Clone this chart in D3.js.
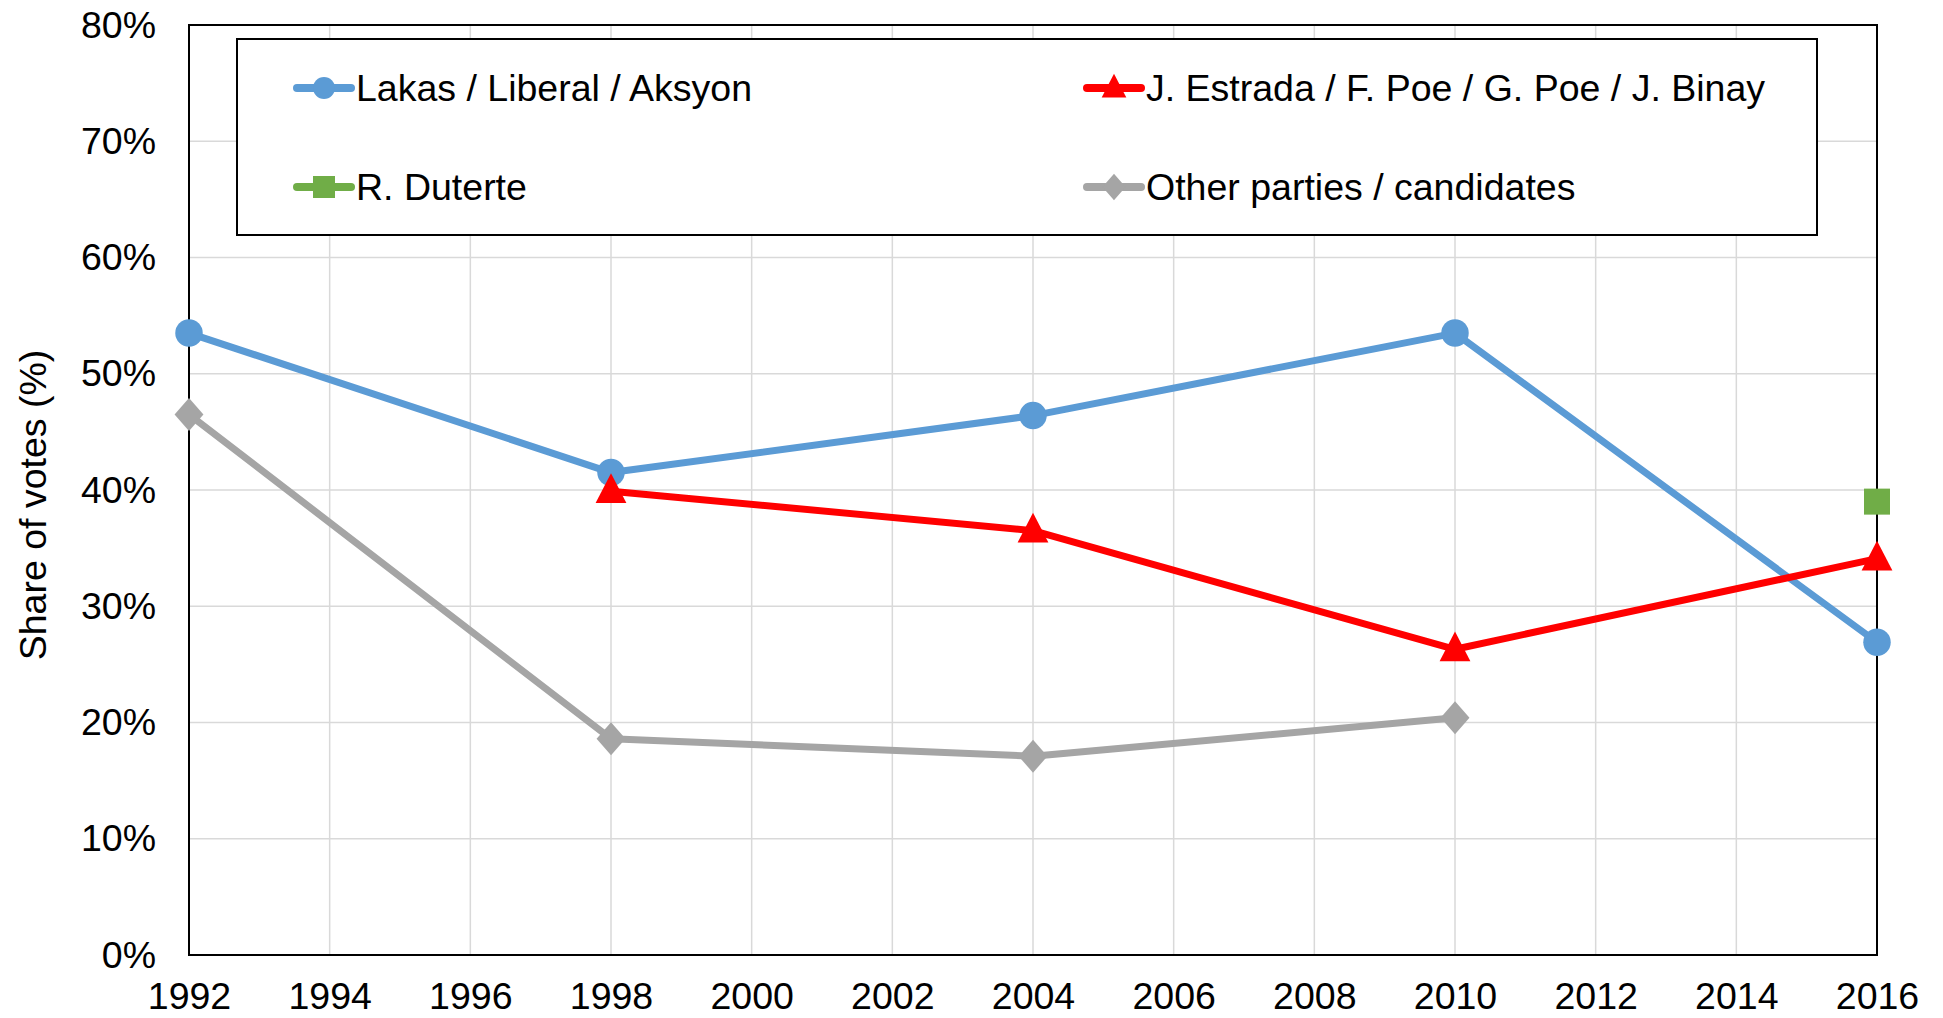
<!DOCTYPE html>
<html>
<head>
<meta charset="utf-8">
<script src="https://cdn.jsdelivr.net/npm/d3@7"></script>
<style>
  html, body { margin: 0; padding: 0; background: #fff; }
  svg { display: block; font-family: "Liberation Sans", Arial, sans-serif; }
</style>
</head>
<body>
<svg id="chart" width="1943" height="1018"></svg>
<script>
// ---- Data ----
const years = [1992, 1998, 2004, 2010, 2016];
const lakas = [53.5, 41.5, 46.4, 53.5, 26.9];
const estrada = [null, 39.9, 36.5, 26.3, 34.1];
const duterte = [null, null, null, null, 39.0];
const other = [46.5, 18.6, 17.1, 20.4, null];
const xTicks = [1992, 1994, 1996, 1998, 2000, 2002, 2004, 2006, 2008, 2010, 2012, 2014, 2016];
const yTicks = [0, 10, 20, 30, 40, 50, 60, 70, 80];
const seriesNames = ["Lakas / Liberal / Aksyon", "J. Estrada / F. Poe / G. Poe / J. Binay", "R. Duterte", "Other parties / candidates"];

(function () {
const series = [
  { name: seriesNames[0], values: lakas, color: "#5b9bd5", marker: "circle" },
  { name: seriesNames[1], values: estrada, color: "#ff0000", marker: "triangle" },
  { name: seriesNames[2], values: duterte, color: "#70ad47", marker: "square" },
  { name: seriesNames[3], values: other, color: "#a5a5a5", marker: "diamond" }
];

const FS = 37.5;
const svg = d3.select("#chart");
const pL = 189, pR = 1877, pT = 25, pB = 955;

const x = d3.scaleLinear().domain([1992, 2016]).range([pL, pR]);
const y = d3.scaleLinear().domain([0, 80]).range([pB, pT]);

// Gridlines
svg.append("g").selectAll("line").data(yTicks).join("line")
  .attr("x1", pL).attr("x2", pR)
  .attr("y1", d => y(d)).attr("y2", d => y(d))
  .attr("stroke", "#d9d9d9").attr("stroke-width", 1.5);
svg.append("g").selectAll("line").data(xTicks).join("line")
  .attr("x1", d => x(d)).attr("x2", d => x(d))
  .attr("y1", pT).attr("y2", pB)
  .attr("stroke", "#d9d9d9").attr("stroke-width", 1.5);

// Plot border
svg.append("rect").attr("x", pL).attr("y", pT)
  .attr("width", pR - pL).attr("height", pB - pT)
  .attr("fill", "none").attr("stroke", "#000").attr("stroke-width", 2);

// Axes
const yAxis = d3.axisLeft(y).tickValues(yTicks).tickFormat(d => d + "%").tickSize(0).tickPadding(33);
const gy = svg.append("g").attr("transform", `translate(${pL},0)`).call(yAxis);
gy.select(".domain").remove();
gy.selectAll("text").attr("font-size", FS).attr("fill", "#000").attr("font-family", "Liberation Sans, Arial, sans-serif");

const xAxis = d3.axisBottom(x).tickValues(xTicks).tickFormat(d3.format("d")).tickSize(0).tickPadding(27);
const gx = svg.append("g").attr("transform", `translate(0,${pB})`).call(xAxis);
gx.select(".domain").remove();
gx.selectAll("text").attr("font-size", FS).attr("fill", "#000").attr("font-family", "Liberation Sans, Arial, sans-serif");

// Y axis title
svg.append("text")
  .attr("transform", `translate(33,505) rotate(-90)`)
  .attr("text-anchor", "middle").attr("dy", "0.35em")
  .attr("font-size", FS).attr("fill", "#000")
  .text("Share of votes (%)");

function drawMarker(g, type, cx, cy, size, color) {
  if (type === "circle") {
    g.append("circle").attr("cx", cx).attr("cy", cy).attr("r", size / 2).attr("fill", color);
  } else if (type === "square") {
    g.append("rect").attr("x", cx - size / 2).attr("y", cy - size / 2)
      .attr("width", size).attr("height", size).attr("fill", color);
  } else if (type === "triangle") {
    const w = size * 1.12, h = size * 1.08;
    g.append("path").attr("d", `M${cx},${cy - h * 0.6} L${cx + w / 2},${cy + h * 0.4} L${cx - w / 2},${cy + h * 0.4} Z`).attr("fill", color);
  } else if (type === "diamond") {
    const w = size * 1.05, h = size * 1.2;
    g.append("path").attr("d", `M${cx},${cy - h / 2} L${cx + w / 2},${cy} L${cx},${cy + h / 2} L${cx - w / 2},${cy} Z`).attr("fill", color);
  }
}

const line = d3.line()
  .defined(d => d.v !== null)
  .x(d => x(d.year)).y(d => y(d.v));

series.forEach(s => {
  const pts = years.map((yr, i) => ({ year: yr, v: s.values[i] }));
  const g = svg.append("g");
  g.append("path").datum(pts).attr("d", line)
    .attr("fill", "none").attr("stroke", s.color).attr("stroke-width", 7)
    .attr("stroke-linejoin", "round").attr("stroke-linecap", "round");
  pts.filter(p => p.v !== null).forEach(p => {
    drawMarker(g, s.marker, x(p.year), y(p.v), s.marker === "square" ? 26 : 27.5, s.color);
  });
});

// Legend
const leg = svg.append("g");
leg.append("rect").attr("x", 237).attr("y", 39).attr("width", 1817 - 237).attr("height", 235 - 39)
  .attr("fill", "#fff").attr("stroke", "#000").attr("stroke-width", 2);
const legPos = [
  { x1: 297, y: 88 }, { x1: 1087, y: 88 },
  { x1: 297, y: 187 }, { x1: 1087, y: 187 }
];
series.forEach((s, i) => {
  const p = legPos[i];
  const lg = leg.append("g");
  lg.append("line").attr("x1", p.x1).attr("x2", p.x1 + 54).attr("y1", p.y).attr("y2", p.y)
    .attr("stroke", s.color).attr("stroke-width", 8).attr("stroke-linecap", "round");
  drawMarker(lg, s.marker, p.x1 + 27, p.y, 22, s.color);
  lg.append("text").attr("x", p.x1 + 59).attr("y", p.y).attr("dy", "0.35em")
    .attr("font-size", FS).attr("fill", "#000").text(s.name);
});
})();
</script>
</body>
</html>
